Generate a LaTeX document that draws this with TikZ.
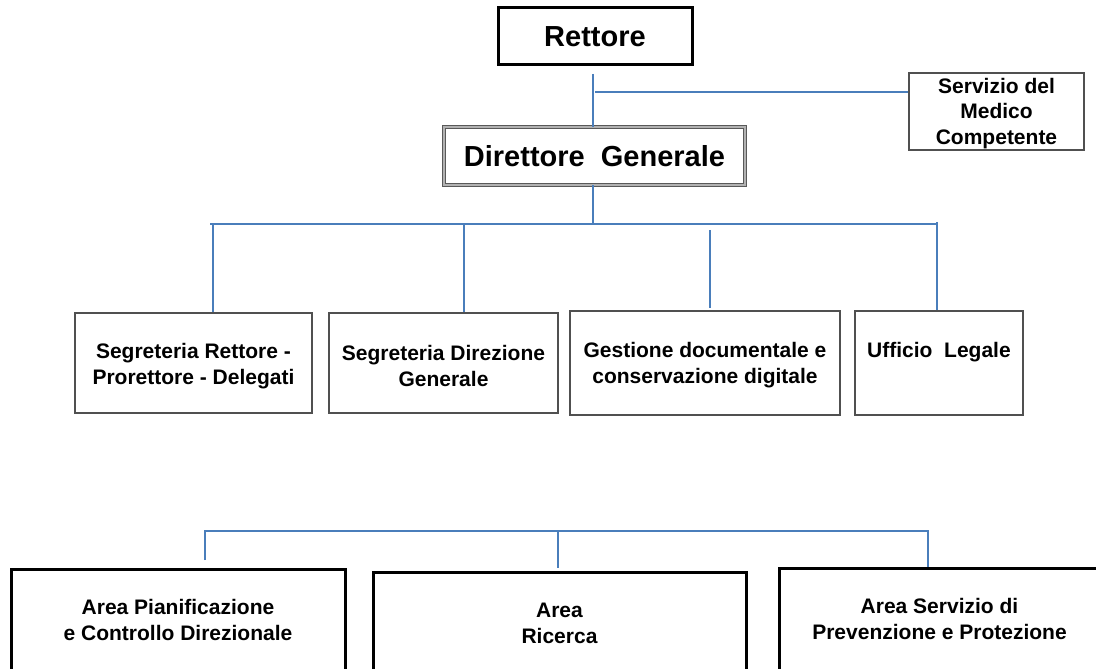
\documentclass[tikz,border=0pt]{standalone}
\usepackage{fontspec}
\setmainfont{Liberation Sans}
\definecolor{linkblue}{HTML}{4A7EBB}
\definecolor{boxgray}{HTML}{505050}
\begin{document}
\begin{tikzpicture}[x=1pt,y=-1pt,
  conn/.style={draw=linkblue, line width=2pt},
  topbox/.style={draw=black, line width=3pt, fill=white, inner sep=0pt,
    font=\bfseries\fontsize{29}{34}\selectfont},
  dgbox/.style={draw=gray!70!black, double=gray!60, double distance=1.6pt, line width=0.9pt,
    fill=white, inner sep=0pt, font=\bfseries\fontsize{29}{34}\selectfont},
  thinbox/.style={draw=boxgray, line width=1.4pt, fill=white, inner sep=0pt},
  areabox/.style={draw=black, line width=3pt, fill=white, inner sep=0pt, align=center,
    font=\bfseries\fontsize{21}{26}\selectfont},
  lbl/.style={inner sep=0pt, align=center, font=\bfseries\fontsize{21}{25.5}\selectfont}
]
\clip (0,0) rectangle (1096,669);
\fill[white] (0,0) rectangle (1096,669);

% top
\node[topbox, minimum width=194pt, minimum height=57pt] (ret) at (595,36.5) {Rettore};
\node[dgbox, minimum width=301pt, minimum height=58pt] (dg) at (594.5,156) {Direttore\ \ Generale};
\node[thinbox, minimum width=175pt, minimum height=77pt] (med) at (996.5,111.5) {};
\node[lbl] (medt) at (996.5,113.5) {Servizio del\\Medico\\Competente};

% middle row
\node[thinbox, minimum width=237pt, minimum height=100pt] (m1) at (193.5,363) {};
\node[lbl] (m1t) at (193.5,366) {Segreteria Rettore -\\Prorettore - Delegati};
\node[thinbox, minimum width=229pt, minimum height=100pt] (m2) at (443.5,363) {};
\node[lbl] (m2t) at (443.5,366) {Segreteria Direzione\\Generale};
\node[thinbox, minimum width=270pt, minimum height=104pt] (m3) at (705,363) {};
\node[lbl] (m3t) at (705,365) {Gestione documentale e\\conservazione digitale};
\node[thinbox, minimum width=168pt, minimum height=104pt] (m4) at (939,363) {};
\node[lbl] (m4t) at (939,352) {Ufficio\ \ Legale};

% bottom row
\node[areabox, minimum width=334pt, minimum height=102pt] (a1) at (178,620) {Area Pianificazione\\e Controllo Direzionale};
\node[areabox, minimum width=373pt, minimum height=102pt] (a2) at (559.5,623) {Area\\Ricerca};
\node[areabox, minimum width=321pt, minimum height=102pt] (a3) at (939.5,619) {Area Servizio di\\Prevenzione e Protezione};

% connectors top
\coordinate (r1) at (593,74);
\coordinate (b1) at (595,92);
\draw[conn] (r1) -- (r1 |- dg.north);
\draw[conn] (b1) -- (b1 -| med.west);

\coordinate (busL) at (210,224);
\coordinate (busR) at (938,224);
\coordinate (d1) at (213,224);
\coordinate (d2) at (464,224);
\coordinate (d3) at (710,230);
\coordinate (d4) at (937,222);
\draw[conn] (dg.south -| r1) -- (r1 |- busL);
\draw[conn] (busL) -- (busR);
\draw[conn] (d1) -- (d1 |- m1.north);
\draw[conn] (d2) -- (d2 |- m2.north);
\draw[conn] (d3) -- ([yshift=2pt]d3 |- m3.north);
\draw[conn] (d4) -- (d4 |- m4.north);

% bottom bus
\coordinate (e1) at (205,531);
\coordinate (e2) at (558,531);
\coordinate (e3) at (928,531);
\coordinate (f1) at (205,560);
\coordinate (f2) at (558,568);
\coordinate (f3) at (928,567);
\draw[conn] (f1) -- (e1) -- (e3) -- (f3);
\draw[conn] (e2) -- (f2);
\end{tikzpicture}
\end{document}
